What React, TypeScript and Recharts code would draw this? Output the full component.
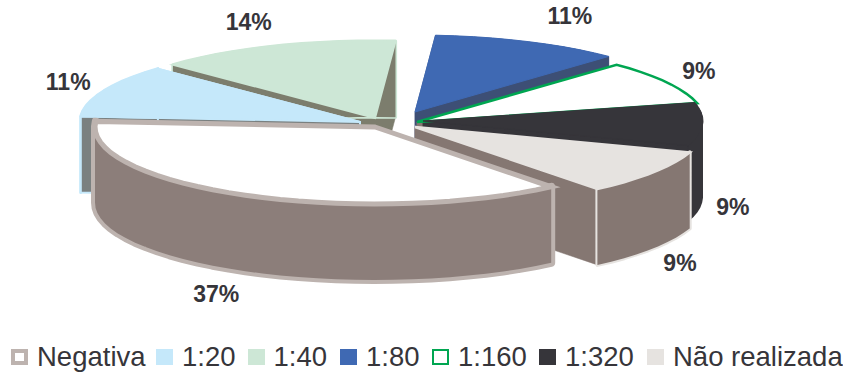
import { Legend, Pie, PieChart } from "recharts";

const categories = ["1:20", "1:40", "1:80", "1:160", "1:320", "Não realizada", "Negativa"];
const shares = [11, 14, 11, 9, 9, 9, 37];
const legendOrder = ["Negativa", "1:20", "1:40", "1:80", "1:160", "1:320", "Não realizada"];
const legendLeft = [11, 156, 247.5, 340, 432, 539, 647];
// slices at the far side of the disc, their walls are painted before all the others
const farSlices = ["1:40", "1:80"];

const tableData = categories.map((name, i) => ({ name, value: shares[i] }));

// squash factor of the tilted disc and height of its side wall
const TILT = 0.275;
const DEPTH = 76;
const TEXT_COLOR = "#36353a";

interface SliceStyle {
  top: string;
  wall: string;
  edge: string;
  edgeWidth: number;
  wallEdge: number;
  outlineSides?: boolean;
  shift: [number, number];
  scale: number;
  labelShift: [number, number];
}

const sliceStyles: Record<string, SliceStyle> = {
  "1:20": { top: "#c5e8fa", wall: "#7a8080", edge: "#c5e8fa", edgeWidth: 2, wallEdge: 2, outlineSides: true, shift: [-30, 2], scale: 1, labelShift: [-36, -9] },
  "1:40": { top: "#cde7d6", wall: "#7c7d6d", edge: "#cde7d6", edgeWidth: 2, wallEdge: 2, shift: [-15, -2], scale: 1, labelShift: [-26, -24] },
  "1:80": { top: "#3f69b3", wall: "#3d4f75", edge: "#3f69b3", edgeWidth: 1, wallEdge: 0, shift: [25, -8], scale: 1, labelShift: [41, -26] },
  "1:160": { top: "#ffffff", wall: "#857772", edge: "#00a651", edgeWidth: 2.5, wallEdge: 0, shift: [27, 2], scale: 1.03, labelShift: [32, -11] },
  "1:320": { top: "#36353a", wall: "#36353a", edge: "#36353a", edgeWidth: 1, wallEdge: 0, shift: [33, 1], scale: 1, labelShift: [30, 83] },
  "Não realizada": { top: "#e6e3e0", wall: "#857772", edge: "#e6e3e0", edgeWidth: 2.5, wallEdge: 2.5, shift: [25, 7], scale: 1.035, labelShift: [27, 91] },
  Negativa: { top: "#ffffff", wall: "#8c7e7a", edge: "#bdb3af", edgeWidth: 5, wallEdge: 5, shift: [-15, 7], scale: 1, labelShift: [-29, 99] },
};

const RAD = Math.PI / 180;

type Pt = [number, number];

function rimPoint(cx: number, cy: number, r: number, angle: number): Pt {
  return [cx + r * Math.cos(angle * RAD), cy - r * TILT * Math.sin(angle * RAD)];
}

function rimPoints(cx: number, cy: number, r: number, start: number, end: number) {
  const steps = Math.max(2, Math.ceil(Math.abs(end - start) / 4));
  const pts: Pt[] = [];
  for (let i = 0; i <= steps; i++) {
    pts.push(rimPoint(cx, cy, r, start + ((end - start) * i) / steps));
  }
  return pts;
}

const toPath = (pts: Pt[]) =>
  "M" + pts.map(([x, y]) => `${x.toFixed(1)},${y.toFixed(1)}`).join("L") + "Z";

const drop = ([x, y]: Pt): Pt => [x, y + DEPTH];

function Wall(props: any) {
  const { name, cx, cy, outerRadius, startAngle, endAngle } = props;
  const s = sliceStyles[name];
  const ax = cx + s.shift[0];
  const ay = cy + s.shift[1];
  const rim = rimPoints(ax, ay, outerRadius * s.scale, startAngle, endAngle);
  const apex: Pt = [ax, ay];
  const first = rim[0];
  const last = rim[rim.length - 1];
  const sides = [
    [apex, first, drop(first), drop(apex)],
    [apex, last, drop(last), drop(apex)],
  ].map((side, i) => (
    <path
      key={i}
      d={toPath(side)}
      fill={s.wall}
      stroke={s.outlineSides ? s.edge : s.wall}
      strokeWidth={s.outlineSides ? s.wallEdge : 0.5}
    />
  ));
  // the rim is swept one short quad at a time, all wound the same way so the fill has no holes
  const band = rim
    .slice(1)
    .map((p, i) => {
      const [a, b] = rim[i][0] <= p[0] ? [rim[i], p] : [p, rim[i]];
      return toPath([a, b, drop(b), drop(a)]);
    })
    .join("");
  return (
    <g>
      {!s.outlineSides && sides}
      {s.wallEdge > 0 && (
        <path d={band} fill="none" stroke={s.edge} strokeWidth={s.wallEdge * 1.6} strokeLinejoin="round" />
      )}
      <path d={band} fill={s.wall} />
      {s.outlineSides && sides}
    </g>
  );
}

const FarWallShape = (props: any) => (farSlices.includes(props.name) ? <Wall {...props} /> : <g />);
const NearWallShape = (props: any) => (farSlices.includes(props.name) ? <g /> : <Wall {...props} />);

function TopShape(props: any) {
  const { name, cx, cy, outerRadius, startAngle, endAngle } = props;
  const s = sliceStyles[name];
  const ax = cx + s.shift[0];
  const ay = cy + s.shift[1];
  const rim = rimPoints(ax, ay, outerRadius * s.scale, startAngle, endAngle);
  return (
    <path
      d={toPath([[ax, ay], ...rim])}
      fill={s.top}
      stroke={s.edge}
      strokeWidth={s.edgeWidth}
      strokeLinejoin="miter"
    />
  );
}

function renderLabel(props: any) {
  const { name, value, cx, cy, outerRadius, midAngle } = props;
  const s = sliceStyles[name];
  const [x, y] = rimPoint(cx + s.shift[0], cy + s.shift[1], outerRadius * s.scale, midAngle);
  return (
    <text
      x={x + s.labelShift[0]}
      y={y + s.labelShift[1]}
      textAnchor="middle"
      dominantBaseline="central"
      fill={TEXT_COLOR}
      fontSize={23}
      fontWeight="bold"
      fontFamily="'Liberation Sans', Arial, sans-serif"
    >
      {value}%
    </text>
  );
}

function ChartLegend() {
  return (
    <div
      style={{
        position: "relative",
        height: 30,
        fontSize: 27.5,
        lineHeight: "30px",
        color: TEXT_COLOR,
        fontFamily: "'Liberation Sans', Arial, sans-serif",
        whiteSpace: "nowrap",
      }}
    >
      {legendOrder.map((name, i) => {
        const s = sliceStyles[name];
        const framed = s.top === "#ffffff";
        return (
          <span
            key={name}
            style={{ position: "absolute", left: legendLeft[i], top: 0, display: "flex", alignItems: "center", gap: 9 }}
          >
            <span
              style={{
                display: "block",
                boxSizing: "border-box",
                width: 17,
                height: 16,
                background: s.top,
                border: framed ? `${name === "Negativa" ? 4 : 2.5}px solid ${s.edge}` : "none",
              }}
            />
            {name}
          </span>
        );
      })}
    </div>
  );
}

const pieProps = {
  data: tableData,
  dataKey: "value",
  nameKey: "name",
  cx: 390,
  cy: 120,
  outerRadius: 280,
  startAngle: 175.8,
  endAngle: -184.2,
  isAnimationActive: false,
};

export default function App() {
  return (
    <div style={{ position: "absolute", left: 0, top: 0, width: 843, height: 376, background: "#fff" }}>
      <PieChart width={843} height={376} margin={{ top: 0, right: 0, bottom: 0, left: 0 }}>
        {/* side walls go first so every top face sits above them */}
        <Pie {...pieProps} shape={FarWallShape} />
        <Pie {...pieProps} shape={NearWallShape} />
        <Pie {...pieProps} shape={TopShape} label={renderLabel} labelLine={false} />
        <Legend
          content={<ChartLegend />}
          wrapperStyle={{ position: "absolute", left: 0, top: 342, width: 843 }}
        />
      </PieChart>
    </div>
  );
}
